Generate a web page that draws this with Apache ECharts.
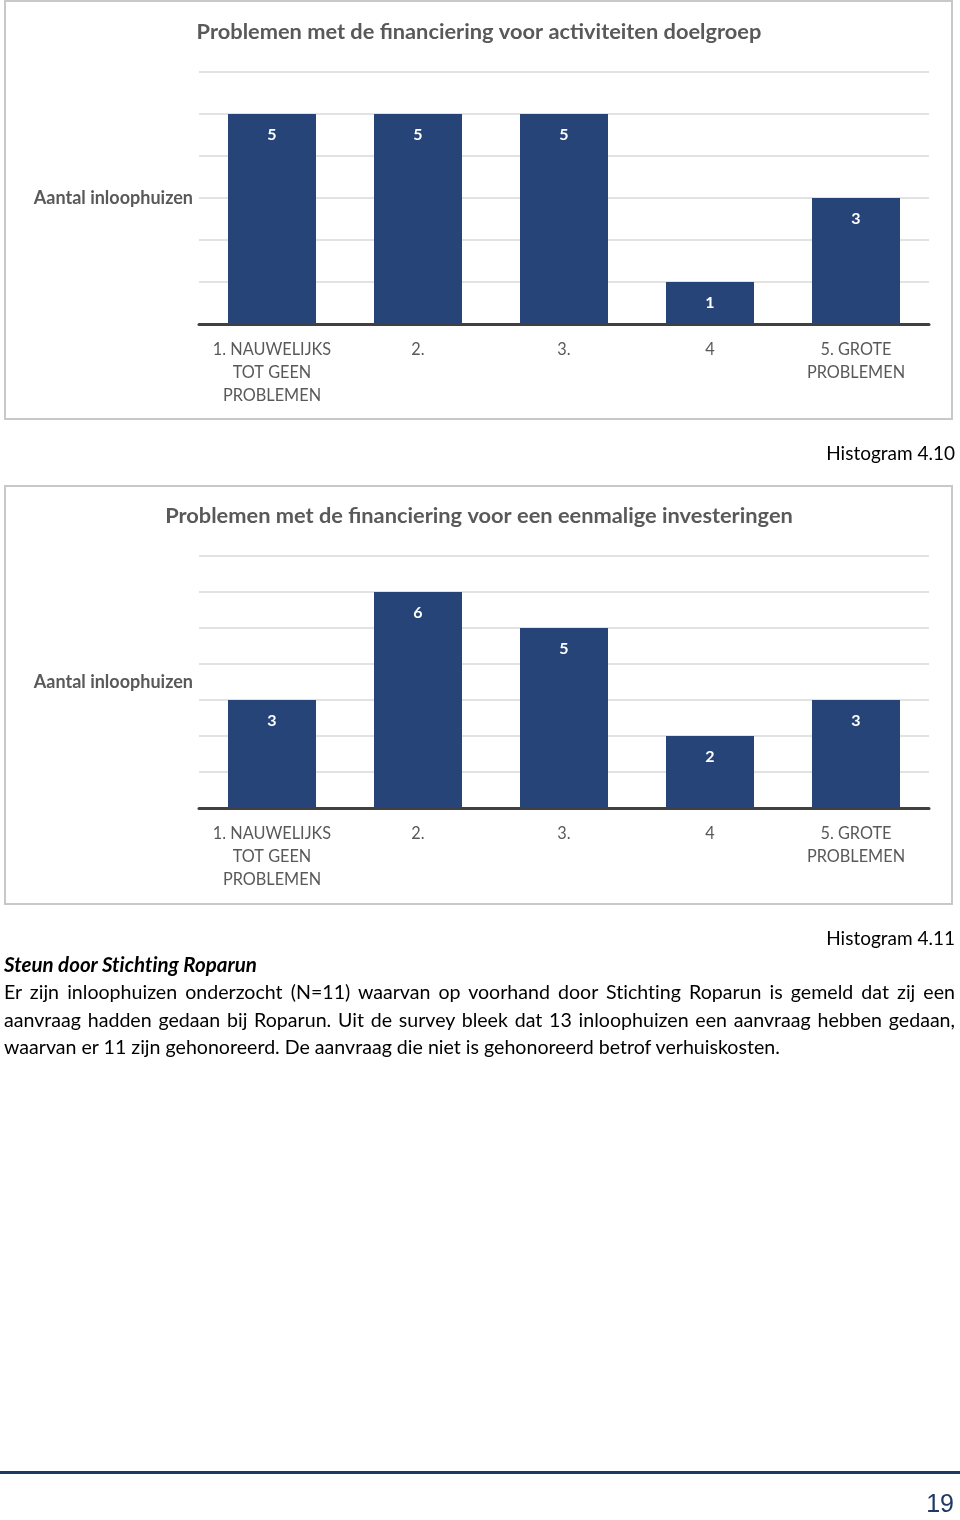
<!DOCTYPE html>
<html>
<head>
<meta charset="utf-8">
<script src="https://cdn.jsdelivr.net/npm/echarts@6/dist/echarts.min.js"></script>
<style>
  html, body { margin: 0; padding: 0; background: #fff; }
  #page { position: relative; width: 960px; height: 1520px; }
  #chart { position: absolute; left: 0; top: 0; width: 960px; height: 1520px; }
  .txt { position: absolute; font-family: Lato, "Open Sans", sans-serif; color: #000; font-size: 19px; font-variant-ligatures: none; white-space: nowrap; }
  .cap { right: 5px; text-align: right; }
  .line { left: 4px; width: 951px; font-size: 19.6px; text-align: justify; text-align-last: justify; }
  .last { text-align: left; text-align-last: left; }
  #head { left: 4px; font-weight: bold; font-style: italic; font-size: 20.5px; }
  #rule { position: absolute; left: 0; top: 1471px; width: 960px; height: 3px; background: #1f3864; }
  #pnum { position: absolute; right: 6px; top: 1489px; font-family: "Liberation Sans", Arial, sans-serif; font-size: 25px; color: #1f3864; }
</style>
</head>
<body>
<div id="page">
  <div id="chart"></div>
  <div class="txt cap" style="top:441px;">Histogram 4.10</div>
  <div class="txt cap" style="top:926px;">Histogram 4.11</div>
  <div class="txt" id="head" style="top:952px;">Steun door Stichting Roparun</div>
  <div class="txt line" style="top:980px;">Er zijn inloophuizen onderzocht (N=11) waarvan op voorhand door Stichting Roparun is gemeld dat zij een</div>
  <div class="txt line" style="top:1008px;">aanvraag hadden gedaan bij Roparun. Uit de survey bleek dat 13 inloophuizen een aanvraag hebben gedaan,</div>
  <div class="txt line last" style="top:1035px;">waarvan er 11 zijn gehonoreerd. De aanvraag die niet is gehonoreerd betrof verhuiskosten.</div>
  <div id="rule"></div>
  <div id="pnum">19</div>
</div>
<script>
const categories = ['1. NAUWELIJKS\nTOT GEEN\nPROBLEMEN', '2.', '3.', '4', '5. GROTE\nPROBLEMEN'];
const title1 = 'Problemen met de financiering voor activiteiten doelgroep';
const title2 = 'Problemen met de financiering voor een eenmalige investeringen';
const values1 = [5, 5, 5, 1, 3];
const values2 = [3, 6, 5, 2, 3];
const yName = 'Aantal inloophuizen';
const yMax1 = 6;
const yMax2 = 7;

const FONT = 'Lato, "Open Sans", sans-serif';
const BAR = '#264478';
const GREY = '#595959';

function xAxisFor(i) {
  return {
    type: 'category', gridIndex: i, data: categories,
    axisLine: { lineStyle: { color: '#404040', width: 3 } },
    axisTick: { show: false },
    axisLabel: { color: GREY, fontSize: 16.3, lineHeight: 23, margin: 14, fontFamily: FONT, interval: 0 }
  };
}
function yAxisFor(i, max) {
  return {
    type: 'value', gridIndex: i, min: 0, max: max, interval: 1,
    name: yName, nameLocation: 'middle', nameRotate: 0, nameGap: 6,
    nameTextStyle: { color: GREY, fontSize: 18, fontWeight: 'bold', fontFamily: FONT, align: 'right', verticalAlign: 'middle' },
    axisLine: { show: false }, axisTick: { show: false }, axisLabel: { show: false },
    splitLine: { lineStyle: { color: '#d9d9d9', width: 1.5 } }
  };
}
function seriesFor(i, data) {
  return {
    type: 'bar', xAxisIndex: i, yAxisIndex: i, data: data, barWidth: 88,
    itemStyle: { color: BAR },
    label: { show: true, position: 'insideTop', distance: 13, color: '#fff', fontSize: 16, fontWeight: 'bold', fontFamily: FONT },
    silent: true, animation: false
  };
}

const chart = echarts.init(document.getElementById('chart'), null, { renderer: 'canvas' });
chart.setOption({
  animation: false,
  textStyle: { fontFamily: FONT },
  title: [
    { text: title1, left: 474, top: 16, textAlign: 'center', textStyle: { color: GREY, fontSize: 21.8, fontWeight: 'bold', fontFamily: FONT } },
    { text: title2, left: 474, top: 500, textAlign: 'center', textStyle: { color: GREY, fontSize: 21.8, fontWeight: 'bold', fontFamily: FONT } }
  ],
  graphic: [
    { type: 'rect', shape: { x: 5, y: 1, width: 947, height: 418 }, style: { fill: 'none', stroke: '#c8c8c8', lineWidth: 2 }, z: -1 },
    { type: 'rect', shape: { x: 5, y: 486, width: 947, height: 418 }, style: { fill: 'none', stroke: '#c8c8c8', lineWidth: 2 }, z: -1 }
  ],
  grid: [
    { left: 199, top: 72, width: 730, height: 252 },
    { left: 199, top: 556, width: 730, height: 252 }
  ],
  xAxis: [xAxisFor(0), xAxisFor(1)],
  yAxis: [yAxisFor(0, yMax1), yAxisFor(1, yMax2)],
  series: [seriesFor(0, values1), seriesFor(1, values2)]
});
</script>
</body>
</html>
